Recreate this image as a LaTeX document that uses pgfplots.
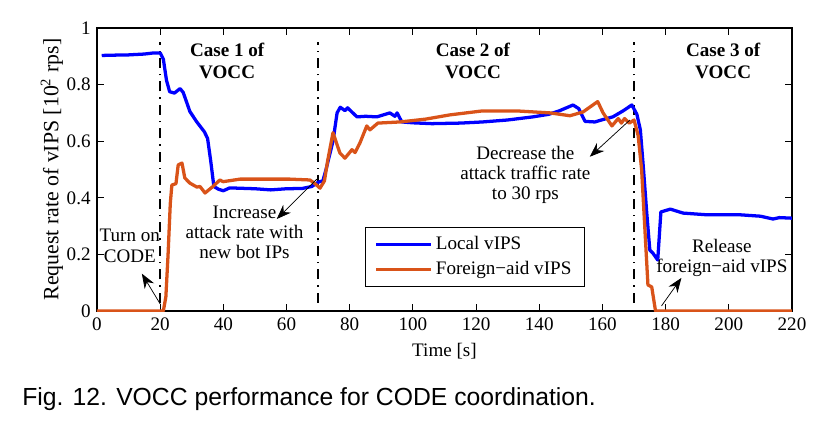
\documentclass[border=0pt]{standalone}
\usepackage{fontspec}
\setmainfont{Liberation Serif}
\newfontfamily\capfont{Liberation Sans}
\usepackage{pgfplots}
\pgfplotsset{compat=1.18}
\usetikzlibrary{arrows.meta}
\definecolor{mblue}{RGB}{0,0,255}
\definecolor{morange}{RGB}{217,83,25}
\begin{document}
\begin{tikzpicture}
\useasboundingbox (-53.35pt,-64.9pt) rectangle (394.9pt,171.05pt);
\begin{axis}[
  scale only axis,
  width=382.25pt, height=155.65pt,
  xmin=0, xmax=220, ymin=0, ymax=1,
  xtick={0,20,...,220},
  ytick={0,0.2,0.4,0.6,0.8,1},
  tick align=inside,
  xtick pos=both, ytick pos=both,
  major tick length=3.8pt,
  axis line style={line width=0.8pt},
  every tick/.style={black, line width=0.6pt},
  font=\fontsize{10.5}{12.6}\selectfont,
  /pgf/number format/assume math mode=true,
  yticklabel style={/pgf/number format/fixed, /pgf/number format/precision=1},
  xlabel={Time [s]},
  ylabel={Request rate of vIPS [10\textsuperscript{2} rps]},
  ylabel style={at={(axis description cs:-0.0648,0.5)}, anchor=center, font=\fontsize{12}{14}\selectfont},
  legend style={at={(axis cs:84.8,0.297)}, anchor=north west, draw=black, line width=0.6pt,
     inner xsep=5pt, inner ysep=3pt, row sep=1pt, font=\fontsize{10.5}{12.6}\selectfont},
  legend cell align=left,
  legend image code/.code={\draw[#1] (0pt,0pt) -- (30pt,0pt);},
]
% vertical dash-dot separators
\addplot[forget plot, black, line width=0.8pt, dash pattern=on 5.5pt off 3.3pt on 0.8pt off 3.3pt] coordinates {(20,0.03) (20,0.95)};
\addplot[forget plot, black, line width=0.8pt, dash pattern=on 5.5pt off 3.3pt on 0.8pt off 3.3pt] coordinates {(70,0.03) (70,0.95)};
\addplot[forget plot, black, line width=0.8pt, dash pattern=on 5.5pt off 3.3pt on 0.8pt off 3.3pt] coordinates {(170,0.03) (170,0.95)};

\addplot[mblue, line width=1.8pt, line join=round] coordinates {
(1.5,0.903) (5,0.904) (10,0.905) (15,0.908) (18,0.912) (20,0.912) (21,0.89) (22,0.815) (23,0.775)
(24.5,0.77) (26.3,0.786) (27.3,0.772) (29.4,0.705) (31.6,0.668) (34,0.633) (35,0.61) (36,0.53)
(37,0.44) (38.5,0.43) (40,0.425) (42,0.435) (50,0.432) (55,0.428) (60,0.432) (65,0.433) (68,0.44)
(70,0.455) (71.5,0.46) (72.5,0.5) (74.7,0.6) (76,0.70) (77,0.72) (78.5,0.708) (79.3,0.718)
(82.3,0.686) (85,0.688) (88.6,0.686) (92.7,0.70) (94.3,0.688) (95,0.70) (96.5,0.668) (100,0.665)
(106,0.662) (115,0.664) (122,0.668) (130,0.675) (138,0.686) (143,0.695) (146.5,0.708) (150.7,0.728)
(152.5,0.715) (154.5,0.67) (157.6,0.668) (160,0.676) (163.3,0.686) (166.5,0.707) (169.3,0.728)
(170.9,0.695) (172,0.64) (173,0.50) (174,0.35) (175,0.215) (176,0.204) (177.5,0.18) (178.5,0.35)
(180,0.355) (181.5,0.36) (185.5,0.346) (193,0.34) (203.5,0.34) (210,0.335) (214,0.325) (216,0.33) (220,0.328)
};
\addlegendentry{Local vIPS}
\addplot[morange, line width=1.8pt, line join=round] coordinates {
(0,0) (21,0) (21.8,0.05) (22.5,0.2) (23.2,0.38) (23.7,0.445) (25,0.45) (25.7,0.516) (26.9,0.523)
(27.8,0.47) (29.4,0.452) (31.6,0.438) (32.6,0.44) (34.2,0.417) (36.7,0.44) (38.9,0.463) (39.9,0.457)
(45.3,0.466) (61,0.466) (67.4,0.463) (69,0.45) (70.6,0.434) (72,0.46) (73,0.53) (74.7,0.63)
(76.9,0.558) (78.5,0.54) (80.7,0.57) (81.7,0.56) (83.2,0.593) (85.4,0.654) (86.4,0.64) (88.9,0.664)
(95.9,0.668) (104,0.678) (111.7,0.693) (122,0.707) (132.9,0.707) (143.4,0.70) (149.7,0.69)
(153.8,0.703) (158.5,0.74) (160.2,0.70) (163,0.654) (165,0.68) (166,0.664) (167,0.68) (168.5,0.664)
(170,0.675) (171.3,0.62) (172.4,0.5) (174.4,0.092) (175.6,0.085) (176.8,0) (220,0)
};
\addlegendentry{Foreign−aid vIPS}

% case labels
\node[font=\bfseries\fontsize{10.5}{12.1}\selectfont, align=center] at (axis cs:41.2,0.883) {Case 1 of\\VOCC};
\node[font=\bfseries\fontsize{10.5}{12.1}\selectfont, align=center] at (axis cs:119,0.883) {Case 2 of\\VOCC};
\node[font=\bfseries\fontsize{10.5}{12.1}\selectfont, align=center] at (axis cs:198.2,0.883) {Case 3 of\\VOCC};

% annotations
\node[align=center, font=\fontsize{10.5}{11.5}\selectfont, inner sep=0pt] at (axis cs:10.4,0.231) {Turn on\\CODE};
\node[align=center, font=\fontsize{10.5}{11}\selectfont, inner sep=0pt] at (axis cs:46.7,0.279) {Increase\\attack rate with\\new bot IPs};
\node[align=center, font=\fontsize{10.5}{11}\selectfont, inner sep=0pt] at (axis cs:135.6,0.481) {Decrease the\\attack traffic rate\\to 30 rps};
\node[align=center, font=\fontsize{10.5}{11}\selectfont, inner sep=0pt] at (axis cs:197.8,0.186) {Release\\foreign−aid vIPS};

\draw[-{Stealth[length=8pt,width=6pt]}, line width=0.4pt] (axis cs:20,0.025) -- (axis cs:14.2,0.132);
\draw[-{Stealth[length=8pt,width=6pt]}, line width=0.4pt] (axis cs:69.6,0.466) -- (axis cs:56.9,0.325);
\draw[-{Stealth[length=8pt,width=6pt]}, line width=0.4pt] (axis cs:168.7,0.675) -- (axis cs:156,0.545);
\draw[-{Stealth[length=8pt,width=6pt]}, line width=0.4pt] (axis cs:178.7,0.018) -- (axis cs:185,0.117);
\end{axis}
\node[anchor=base west, inner sep=0pt, font=\capfont\fontsize{13.6}{16}\selectfont] at (-41.25pt,-52pt) {Fig. 12. VOCC performance for CODE coordination.};
\end{tikzpicture}
\end{document}
